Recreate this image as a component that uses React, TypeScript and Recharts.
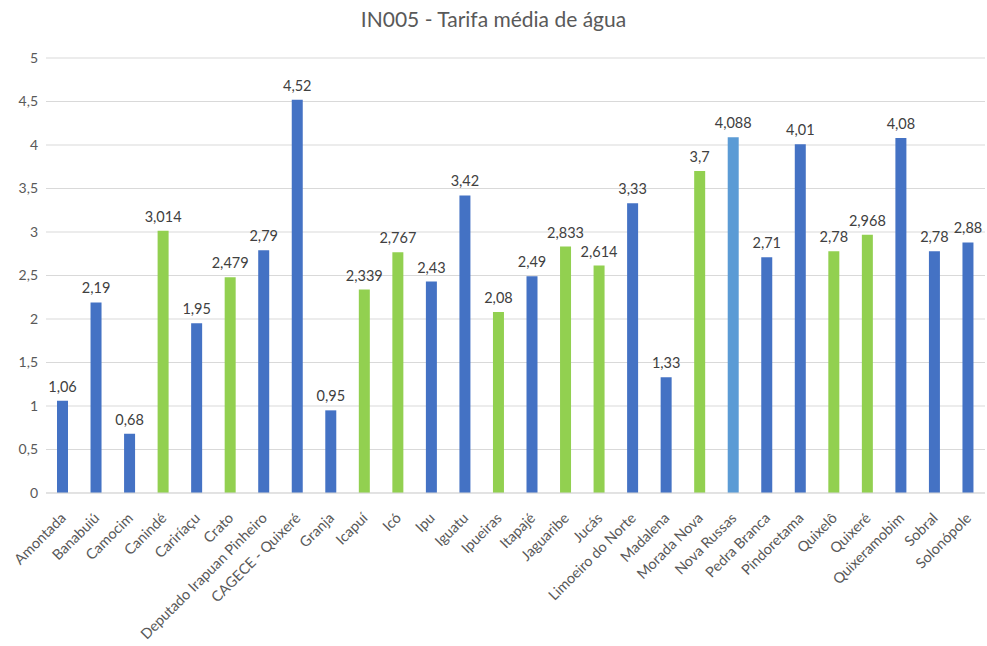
import React from 'react';
import { BarChart, Bar, XAxis, YAxis, CartesianGrid, Cell, LabelList } from 'recharts';

const municipios: string[] = [
  'Amontada', 'Banabuiú', 'Camocim', 'Canindé', 'Cariríaçu', 'Crato',
  'Deputado Irapuan Pinheiro', 'CAGECE - Quixeré', 'Granja', 'Icapuí', 'Icó', 'Ipu',
  'Iguatu', 'Ipueiras', 'Itapajé', 'Jaguaribe', 'Jucás', 'Limoeiro do Norte',
  'Madalena', 'Morada Nova', 'Nova Russas', 'Pedra Branca', 'Pindoretama', 'Quixelô',
  'Quixeré', 'Quixeramobim', 'Sobral', 'Solonópole',
];

const tarifas: number[] = [
  1.06, 2.19, 0.68, 3.014, 1.95, 2.479,
  2.79, 4.52, 0.95, 2.339, 2.767, 2.43,
  3.42, 2.08, 2.49, 2.833, 2.614, 3.33,
  1.33, 3.7, 4.088, 2.71, 4.01, 2.78,
  2.968, 4.08, 2.78, 2.88,
];

// b = azul, g = verde, c = azul claro
const grupos: string[] = [
  'b', 'b', 'b', 'g', 'b', 'g',
  'b', 'b', 'b', 'g', 'g', 'b',
  'b', 'g', 'b', 'g', 'g', 'b',
  'b', 'g', 'c', 'b', 'b', 'g',
  'g', 'b', 'b', 'b',
];

const yTicks: number[] = [0, 0.5, 1, 1.5, 2, 2.5, 3, 3.5, 4, 4.5, 5];

const coresGrupo: Record<string, string> = {
  b: '#4472C4',
  g: '#92D050',
  c: '#5B9BD5',
};

const data = municipios.map((nome, i) => ({ nome, valor: tarifas[i], grupo: grupos[i] }));

const fmt = (v: number | string) => String(v).replace('.', ',');

const FONT = 'Lato, "Open Sans", sans-serif';

const XTick = (props: any) => {
  const { x, y, payload } = props;
  const tx = x + 4;
  const ty = y + 18;
  return (
    <text
      x={tx}
      y={ty}
      transform={`rotate(-45, ${tx}, ${ty})`}
      textAnchor='end'
      fill='#595959'
      fontSize={14.5}
      fontFamily={FONT}
    >
      {payload.value}
    </text>
  );
};

const App: React.FC = () => {
  return (
    <div style={{ position: 'absolute', left: 0, top: 0, width: 987, height: 646, background: '#fff' }}>
      <div
        style={{
          position: 'absolute',
          top: 6,
          left: 0,
          width: 987,
          textAlign: 'center',
          fontFamily: FONT,
          fontSize: 21,
          color: '#595959',
        }}
      >
        IN005 - Tarifa média de água
      </div>
      <BarChart
        width={987}
        height={646}
        data={data}
        margin={{ top: 58, right: 2, bottom: 0, left: 0 }}
        barCategoryGap={0}
      >
        <CartesianGrid vertical={false} stroke='#d9d9d9' />
        <XAxis
          dataKey='nome'
          interval={0}
          height={153}
          tick={<XTick />}
          tickLine={false}
          axisLine={{ stroke: '#d9d9d9' }}
        />
        <YAxis
          domain={[0, 5]}
          ticks={yTicks}
          width={46}
          axisLine={false}
          tickLine={false}
          tickFormatter={fmt}
          tick={{ fill: '#595959', fontSize: 14, fontFamily: FONT }}
        />
        <Bar dataKey='valor' barSize={11} isAnimationActive={false}>
          {data.map((d, i) => (
            <Cell key={`c-${i}`} fill={coresGrupo[d.grupo]} />
          ))}
          <LabelList
            dataKey='valor'
            position='top'
            offset={9}
            formatter={fmt}
            style={{ fill: '#404040', fontSize: 14.5, fontFamily: FONT }}
          />
        </Bar>
      </BarChart>
    </div>
  );
};

export default App;
